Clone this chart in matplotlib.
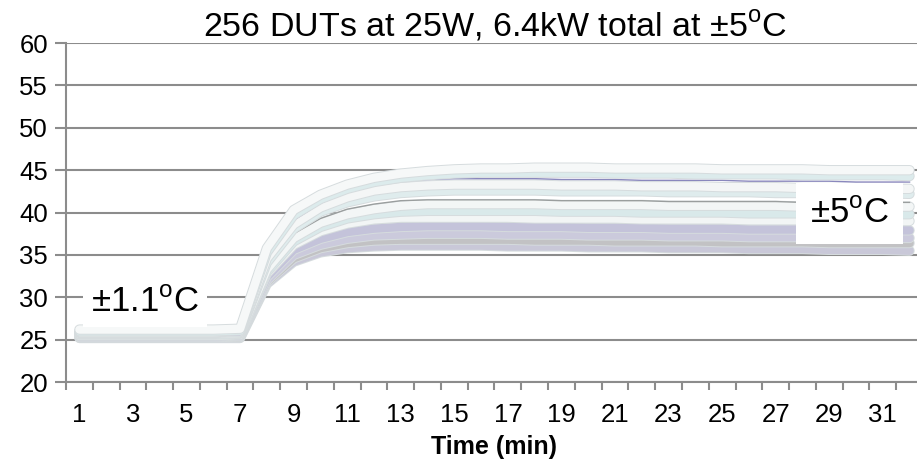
import matplotlib
matplotlib.use("Agg")
import matplotlib.pyplot as plt
import matplotlib.patheffects as pe

plt.rcParams["font.family"] = ["Liberation Sans", "DejaVu Sans"]
plt.rcParams["mathtext.fontset"] = "custom"
plt.rcParams["mathtext.rm"] = "Liberation Sans"

minutes = list(range(1, 33))
tick_labels = [str(m) if m % 2 == 1 else "" for m in minutes]

# representative DUT temperature traces (degC), top of the band to bottom
dut_a = [26.2, 26.2, 26.2, 26.2, 26.2, 26.2, 26.3, 35.8, 40.3, 42.1, 43.3, 44.1, 44.6, 44.9, 45.1, 45.2,
         45.2, 45.3, 45.3, 45.3, 45.2, 45.2, 45.2, 45.2, 45.1, 45.1, 45.1, 45.1, 45.0, 45.0, 45.0, 45.0]
dut_b = [26.0, 26.0, 26.0, 26.0, 26.0, 26.0, 26.1, 35.3, 39.7, 41.6, 42.8, 43.6, 44.1, 44.4, 44.6, 44.7,
         44.7, 44.7, 44.7, 44.7, 44.6, 44.6, 44.6, 44.5, 44.5, 44.5, 44.5, 44.4, 44.4, 44.4, 44.4, 44.3]
dut_c = [25.6, 25.6, 25.6, 25.6, 25.6, 25.6, 25.6, 34.9, 39.1, 41.1, 42.4, 43.2, 43.7, 43.9, 44.0, 44.0,
         44.0, 44.0, 43.9, 43.9, 43.9, 43.8, 43.8, 43.8, 43.8, 43.7, 43.7, 43.7, 43.7, 43.6, 43.6, 43.6]
dut_d = [25.9, 25.9, 25.9, 25.9, 25.9, 25.9, 26.0, 34.6, 38.6, 40.6, 41.8, 42.6, 43.0, 43.2, 43.3, 43.3,
         43.3, 43.3, 43.2, 43.2, 43.2, 43.1, 43.1, 43.1, 43.0, 43.0, 43.0, 42.9, 42.9, 42.9, 42.8, 42.8]
dut_e = [25.8, 25.8, 25.8, 25.8, 25.8, 25.8, 25.9, 34.1, 38.1, 40.1, 41.2, 41.9, 42.3, 42.5, 42.6, 42.6,
         42.6, 42.6, 42.5, 42.5, 42.5, 42.5, 42.4, 42.4, 42.4, 42.4, 42.3, 42.3, 42.3, 42.3, 42.3, 42.2]
dut_f = [25.5, 25.5, 25.5, 25.5, 25.5, 25.5, 25.6, 33.6, 37.5, 39.3, 40.4, 41.0, 41.4, 41.5, 41.5, 41.5,
         41.5, 41.5, 41.4, 41.4, 41.4, 41.4, 41.3, 41.3, 41.3, 41.3, 41.3, 41.2, 41.2, 41.2, 41.2, 41.2]
dut_g = [25.7, 25.7, 25.7, 25.7, 25.7, 25.7, 25.8, 33.3, 37.0, 38.8, 39.8, 40.4, 40.8, 41.0, 41.0, 41.0,
         41.0, 41.0, 40.9, 40.9, 40.9, 40.9, 40.8, 40.8, 40.8, 40.8, 40.8, 40.7, 40.7, 40.7, 40.7, 40.7]
dut_h = [25.6, 25.6, 25.6, 25.6, 25.6, 25.6, 25.7, 33.0, 36.6, 38.3, 39.3, 39.8, 40.1, 40.2, 40.2, 40.2,
         40.2, 40.2, 40.1, 40.1, 40.1, 40.0, 40.0, 40.0, 40.0, 39.9, 39.9, 39.9, 39.9, 39.8, 39.8, 39.8]
dut_i = [25.5, 25.5, 25.5, 25.5, 25.5, 25.5, 25.6, 32.8, 36.2, 37.8, 38.7, 39.2, 39.4, 39.4, 39.4, 39.4,
         39.4, 39.3, 39.3, 39.3, 39.3, 39.2, 39.2, 39.2, 39.2, 39.1, 39.1, 39.1, 39.1, 39.0, 39.0, 39.0]
dut_j = [25.4, 25.4, 25.4, 25.4, 25.4, 25.4, 25.5, 32.4, 35.6, 36.9, 37.7, 38.1, 38.3, 38.4, 38.4, 38.4,
         38.3, 38.3, 38.3, 38.2, 38.2, 38.2, 38.1, 38.1, 38.1, 38.0, 38.0, 38.0, 38.0, 37.9, 37.9, 37.9]
dut_k = [25.3, 25.3, 25.3, 25.3, 25.3, 25.3, 25.4, 32.0, 35.0, 36.2, 36.9, 37.3, 37.4, 37.5, 37.5, 37.5,
         37.4, 37.4, 37.4, 37.3, 37.3, 37.3, 37.2, 37.2, 37.2, 37.1, 37.1, 37.1, 37.1, 37.0, 37.0, 37.0]
dut_l = [25.3, 25.3, 25.3, 25.3, 25.3, 25.3, 25.3, 31.8, 34.6, 35.8, 36.4, 36.7, 36.8, 36.8, 36.8, 36.8,
         36.8, 36.7, 36.7, 36.7, 36.6, 36.6, 36.6, 36.6, 36.5, 36.5, 36.5, 36.5, 36.4, 36.4, 36.4, 36.4]
dut_m = [25.2, 25.2, 25.2, 25.2, 25.2, 25.2, 25.2, 31.6, 34.2, 35.3, 35.8, 36.0, 36.1, 36.1, 36.1, 36.1,
         36.0, 36.0, 36.0, 35.9, 35.9, 35.9, 35.8, 35.8, 35.8, 35.7, 35.7, 35.7, 35.6, 35.6, 35.6, 35.5]

traces = [dut_a, dut_b, dut_c, dut_d, dut_e, dut_f, dut_g, dut_h, dut_i, dut_j, dut_k, dut_l, dut_m]
colors = ["#f6f8f8", "#dcebec", "#8a88bd", "#f4f6f6", "#dfeced", "#9a9e9e", "#f3f6f6",
          "#d9e9ea", "#f2f5f5", "#c4c3da", "#cbcadc", "#c2c2c4", "#c9c8d8"]
widths = [6, 6, 1.0, 6, 6, 1.0, 6, 6, 6, 6, 6, 6, 6]

fig = plt.figure(figsize=(9.17, 4.66), dpi=100)
ax = fig.add_axes([0.072, 0.180, 0.9345, 0.7277])

# bottom traces first so the pale ones sit on top where they overlap
for y, c, w in reversed(list(zip(traces, colors, widths))):
    if w > 2:
        ax.plot(minutes, y, color=c, lw=w, solid_capstyle="round", zorder=3,
                path_effects=[pe.Stroke(linewidth=w + 1.4, foreground="#d6dcde"), pe.Normal()])
    else:
        ax.plot(minutes, y, color=c, lw=w, zorder=3)

ax.set_xlim(0.5, 32.5)
ax.set_ylim(20, 60)
ax.set_yticks(range(20, 61, 5))
ax.yaxis.grid(True, color="#8c8c8c", lw=1.5)
ax.set_axisbelow(True)

ax.set_xticks([m + 0.5 for m in range(0, 33)])
ax.set_xticklabels([])
ax.set_xticks(minutes, minor=True)
ax.set_xticklabels(tick_labels, minor=True)
ax.tick_params(axis="x", which="major", length=6, width=1.5, color="#8c8c8c")
ax.tick_params(axis="x", which="minor", length=0, labelsize=18.5, pad=15)
ax.tick_params(axis="y", length=8, width=1.5, color="#8c8c8c", labelsize=18.5, pad=5)

for s in ["top", "right"]:
    ax.spines[s].set_visible(False)
for s in ["left", "bottom"]:
    ax.spines[s].set_color("#8c8c8c")
    ax.spines[s].set_linewidth(1.5)

ax.set_xlabel("Time (min)", fontsize=18, fontweight="bold", labelpad=6)
ax.set_title("256 DUTs at 25W, 6.4kW total at \u00b15$^{\\mathrm{o}}$C", fontsize=24.5, pad=5)

ax.text(3.45, 29.4, "\u00b11.1$^{\\mathrm{o}}$C", fontsize=25, ha="center", va="center",
        bbox=dict(facecolor="white", edgecolor="none", pad=6), zorder=6)
ax.text(29.75, 39.9, "\u00b15$^{\\mathrm{o}}$C", fontsize=25, ha="center", va="center",
        bbox=dict(facecolor="white", edgecolor="none", pad=10), zorder=6)

fig.savefig("out.png", dpi=100)
